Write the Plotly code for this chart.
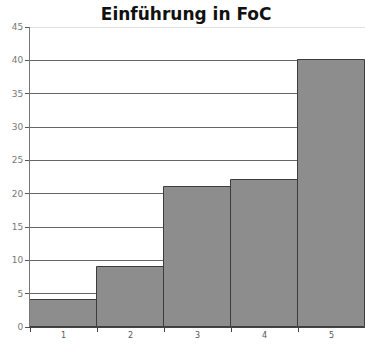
import plotly.graph_objects as go

# Chart data
categories = ["1", "2", "3", "4", "5"]
values = [4, 9, 21, 22, 40]
y_ticks = [0, 5, 10, 15, 20, 25, 30, 35, 40, 45]

fig = go.Figure(
    go.Bar(
        x=categories,
        y=values,
        marker=dict(color="#8d8d8d", line=dict(color="#3c3c3c", width=1)),
        hoverinfo="x+y",
    )
)

fig.update_layout(
    width=365,
    height=350,
    margin=dict(l=30, r=0, t=27, b=23),
    paper_bgcolor="white",
    plot_bgcolor="white",
    bargap=0,
    showlegend=False,
    title=dict(
        text="<b>Einführung in FoC</b>",
        x=0.51,
        xanchor="center",
        y=0.96,
        yanchor="middle",
        font=dict(family="DejaVu Sans", size=17, color="#111111"),
    ),
    font=dict(family="DejaVu Sans", size=9, color="#555555"),
)

fig.update_xaxes(
    type="category",
    tickson="boundaries",
    ticks="outside",
    ticklen=4,
    tickcolor="#444444",
    showline=True,
    linecolor="#444444",
    linewidth=1,
    showgrid=False,
    tickfont=dict(family="DejaVu Sans", size=8, color="#555555"),
)

fig.update_yaxes(
    range=[0, 45],
    tickvals=y_ticks,
    ticks="outside",
    ticklen=4,
    tickcolor="#555555",
    showline=True,
    linecolor="#777777",
    linewidth=1,
    showgrid=True,
    gridcolor="#666666",
    gridwidth=1,
    zeroline=False,
    tickfont=dict(family="DejaVu Sans", size=9, color="#777777"),
)

# Light top border of the plot area at 45
fig.add_shape(
    type="line", xref="paper", yref="y", x0=0, x1=1, y0=45, y1=45,
    line=dict(color="#d8d8d8", width=1.5), layer="above",
)

fig.write_html("out.html")
